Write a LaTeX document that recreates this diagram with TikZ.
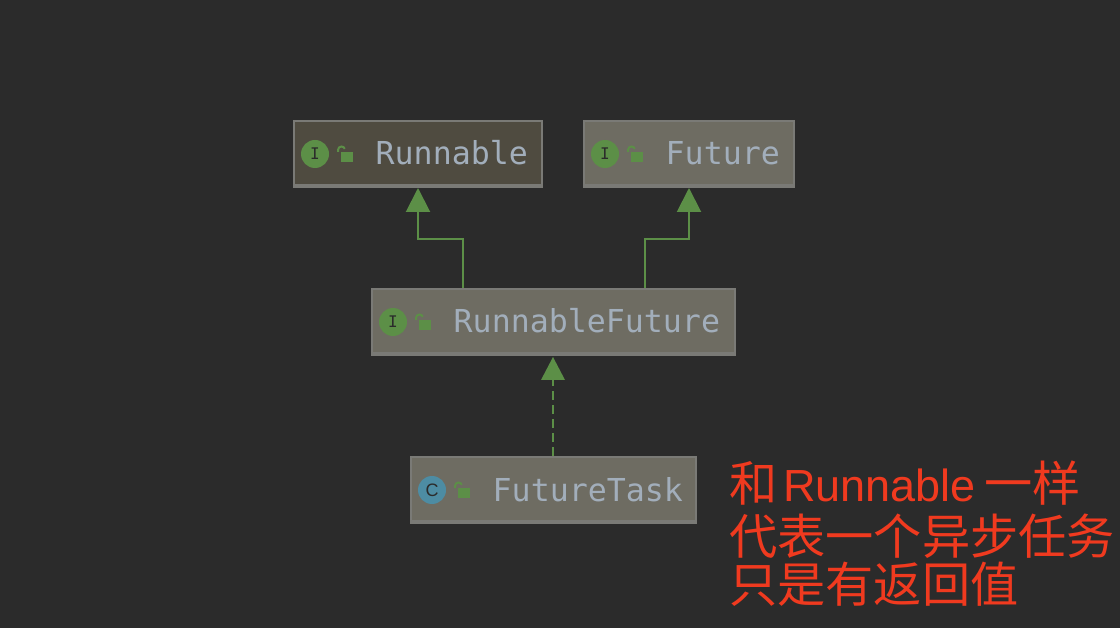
\documentclass[tikz,border=0pt]{standalone}
\usepackage{fontspec}
\setmonofont{DejaVu Sans Mono}
\setsansfont{Liberation Sans}
\newfontfamily\cjk{Noto Sans CJK SC}
\usetikzlibrary{arrows.meta,calc}
\definecolor{bgc}{HTML}{2B2B2B}
\definecolor{boxfill}{HTML}{6E6C62}
\definecolor{boxdark}{HTML}{4F4B40}
\definecolor{boxline}{HTML}{7A7A76}
\definecolor{txtc}{HTML}{A2AEBB}
\definecolor{grn}{HTML}{5C8F47}
\definecolor{cyanc}{HTML}{4D8CA3}
\definecolor{notec}{HTML}{F03A1F}
\tikzset{
  x=1pt,y=-1pt,
  clsbox/.style={draw=boxline,line width=2pt,fill=boxfill,minimum height=66pt,inner sep=0pt,outer sep=0pt},
  clsdark/.style={clsbox,fill=boxdark},
  iconi/.style={circle,minimum size=28pt,inner sep=0pt,fill=grn,text=bgc,font=\ttfamily\fontsize{16}{16}\selectfont},
  iconc/.style={iconi,fill=cyanc,font=\sffamily\fontsize{18}{18}\selectfont},
  clsname/.style={text=txtc,inner sep=0pt,anchor=base west,font=\ttfamily\fontsize{31.6}{32}\selectfont},
  connline/.style={draw=grn,line width=2pt},
  headtip/.style={-{Triangle[length=24pt,width=24pt]}},
  notecjk/.style={text=notec,inner sep=0pt,anchor=base west,font=\cjk\fontsize{48.2}{48}\selectfont},
  notelat/.style={text=notec,inner sep=0pt,anchor=base west,font=\sffamily\fontsize{45}{48}\selectfont}
}
\newcommand{\lockat}[1]{%
  \fill[grn] ($(#1)+(-4,-1)$) rectangle ($(#1)+(8,9)$);
  \draw[grn,line width=2pt] ($(#1)+(-7,-1)$) -- ($(#1)+(-7,-3)$) arc[start angle=180,end angle=340,radius=3.5];
}
\begin{document}
\begin{tikzpicture}
\useasboundingbox (0,0) rectangle (1120,628);
\fill[bgc] (0,0) rectangle (1120,628);

\node[clsdark,minimum width=248pt] (runnable) at (418,154) {};
\node[clsbox,minimum width=210pt] (future) at (689,154) {};
\node[clsbox,minimum width=363pt] (rf) at (553.5,322) {};
\node[clsbox,minimum width=285pt] (ft) at (553.5,490) {};

\draw[boxline,line width=1.5pt] (294,185) -- (542,185);
\draw[boxline,line width=1.5pt] (584,185) -- (794,185);
\draw[boxline,line width=1.5pt] (372,353) -- (735,353);
\draw[boxline,line width=1.5pt] (411,521) -- (696,521);

\node[iconi] (i1) at (315,154) {I};
\node[iconi] (i2) at (605,154) {I};
\node[iconi] (i3) at (393,322) {I};
\node[iconc] (i4) at (432,490) {C};

\coordinate (l1) at (345,153);
\coordinate (l2) at (635,153);
\coordinate (l3) at (423,321);
\coordinate (l4) at (462,489);
\lockat{l1}\lockat{l2}\lockat{l3}\lockat{l4}

\node[clsname] (t1) at (375.5,165) {Runnable};
\node[clsname] (t2) at (665.5,165) {Future};
\node[clsname] (t3) at (453.5,333) {RunnableFuture};
\node[clsname] (t4) at (492.5,501) {FutureTask};

\coordinate (rfl) at (463,288);
\coordinate (rfr) at (645,288);
\coordinate (rl) at (418,188);
\coordinate (fr) at (689,188);
\coordinate (ml) at (463,239);
\coordinate (mr) at (645,239);
\draw[connline,headtip] (rfl) -- (ml) -- (ml -| rl) -- (rl);
\draw[connline,headtip] (rfr) -- (mr) -- (mr -| fr) -- (fr);
\coordinate (fttop) at (553,456);
\coordinate (rfbot) at (553,357);
\draw[connline,dash pattern=on 9pt off 5pt] (fttop) -- ($(rfbot)+(0,20)$);
\fill[grn] (rfbot) -- (541,380) -- (565,380) -- cycle;

\node[notecjk] (n1) at (729,501) {和};
\node[notelat] (n1b) at (783,501) {Runnable};
\node[notecjk] (n1c) at (984,501) {一样};
\node[notecjk] (n2) at (729,554) {代表一个异步任务};
\node[notecjk] (n3) at (729,602) {只是有返回值};
\end{tikzpicture}
\end{document}
